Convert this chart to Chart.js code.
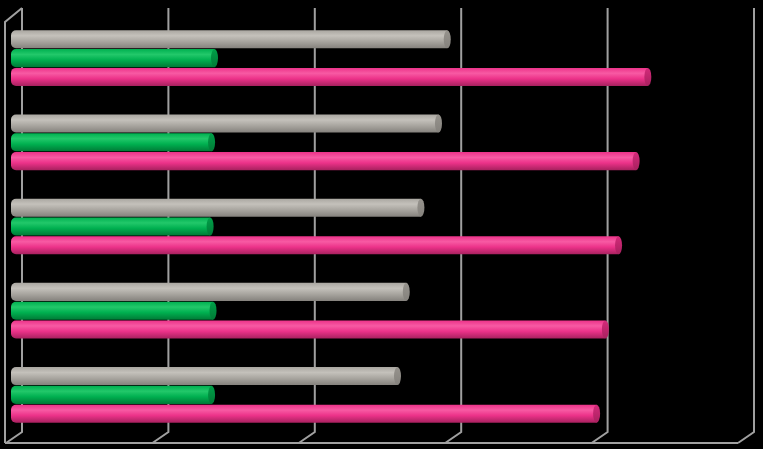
<!DOCTYPE html>
<html>
<head>
<meta charset="utf-8">
<script src="https://cdn.jsdelivr.net/npm/chart.js@4/dist/chart.umd.min.js"></script>
<style>
  html, body { margin: 0; padding: 0; background: #000; }
  #wrap { width: 763px; height: 449px; }
</style>
</head>
<body>
<div id="wrap"><canvas id="chart"></canvas></div>
<script>
// values (axis 0..5, no labels shown)
const categories = ["1", "2", "3", "4", "5"];
const graySeries = [2.98, 2.92, 2.80, 2.70, 2.64];
const greenSeries = [1.39, 1.37, 1.36, 1.38, 1.37];
const pinkSeries = [4.35, 4.27, 4.15, 4.06, 4.00];
const xTicks = [0, 1, 2, 3, 4, 5];

// cylinder shading: [top, middle, bottom, cap]
const shades = [
  ["#c4c1bb", "#aaa7a1", "#85827d", "#96938d"],
  ["#22c86a", "#00b050", "#007a36", "#00a048"],
  ["#f75aa3", "#ec3289", "#a8215f", "#d42a7a"],
];

// 3D frame behind the bars
const framePlugin = {
  id: "frame",
  beforeDraw(chart) {
    const { ctx } = chart;
    ctx.save();
    ctx.fillStyle = "#000";
    ctx.fillRect(0, 0, chart.width, chart.height);
    ctx.restore();
  },
  beforeDatasetsDraw(chart) {
    const { ctx, chartArea, scales } = chart;
    const backTop = chartArea.top - 8;
    const backBottom = chartArea.bottom - 5;
    const frontBottom = chartArea.bottom + 6;
    ctx.save();
    ctx.strokeStyle = "#a0a0a0";
    ctx.lineWidth = 2;
    ctx.beginPath();
    xTicks.forEach((v) => {
      const xb = scales.x.getPixelForValue(v) + 11;
      ctx.moveTo(xb, backTop);
      ctx.lineTo(xb, backBottom);
      ctx.lineTo(xb - 16, frontBottom);
    });
    const x0 = scales.x.getPixelForValue(xTicks[0]);
    const x5 = scales.x.getPixelForValue(xTicks[xTicks.length - 1]);
    ctx.moveTo(x0 - 6, frontBottom);
    ctx.lineTo(x5 - 5, frontBottom);
    // left wall
    ctx.moveTo(x0 - 6, frontBottom);
    ctx.lineTo(x0 - 6, backTop + 14);
    ctx.lineTo(x0 + 11, backTop);
    ctx.stroke();
    ctx.restore();

    // per-bar vertical gradient
    chart.data.datasets.forEach((ds, di) => {
      const meta = chart.getDatasetMeta(di);
      const s = shades[di];
      meta.data.forEach((el) => {
        const t = el.y - el.height / 2;
        const b = el.y + el.height / 2;
        const g = ctx.createLinearGradient(0, t, 0, b);
        g.addColorStop(0, s[1]);
        g.addColorStop(0.3, s[0]);
        g.addColorStop(0.6, s[1]);
        g.addColorStop(1, s[2]);
        el.options = Object.assign({}, el.options, { backgroundColor: g });
      });
    });
  },
  afterDatasetsDraw(chart) {
    const { ctx } = chart;
    ctx.save();
    chart.data.datasets.forEach((ds, di) => {
      const meta = chart.getDatasetMeta(di);
      const s = shades[di];
      meta.data.forEach((el) => {
        const h = el.height / 2;
        const g = ctx.createLinearGradient(0, el.y - h, 0, el.y + h);
        g.addColorStop(0, s[3]);
        g.addColorStop(1, s[2]);
        ctx.fillStyle = g;
        ctx.beginPath();
        ctx.ellipse(el.x, el.y, 3.5, h, 0, 0, Math.PI * 2);
        ctx.fill();
      });
    });
    ctx.restore();
  },
};

new Chart(document.getElementById("chart"), {
  type: "bar",
  data: {
    labels: categories,
    datasets: [
      { label: "Gray", data: graySeries, backgroundColor: shades[0][1] },
      { label: "Green", data: greenSeries, backgroundColor: shades[1][1] },
      { label: "Pink", data: pinkSeries, backgroundColor: shades[2][1] },
    ],
  },
  options: {
    indexAxis: "y",
    responsive: true,
    maintainAspectRatio: false,
    animation: false,
    layout: { padding: { left: 11, right: 20, top: 16, bottom: 12 } },
    datasets: {
      bar: {
        categoryPercentage: 0.67,
        barPercentage: 0.96,
        borderWidth: 0,
        borderSkipped: false,
        borderRadius: { topLeft: 5, bottomLeft: 5, topRight: 0, bottomRight: 0 },
      },
    },
    scales: {
      x: { min: 0, max: 5, display: false, grid: { display: false } },
      y: { display: false, grid: { display: false } },
    },
    plugins: {
      legend: { display: false },
      tooltip: { enabled: false },
    },
  },
  plugins: [framePlugin],
});
</script>
</body>
</html>
